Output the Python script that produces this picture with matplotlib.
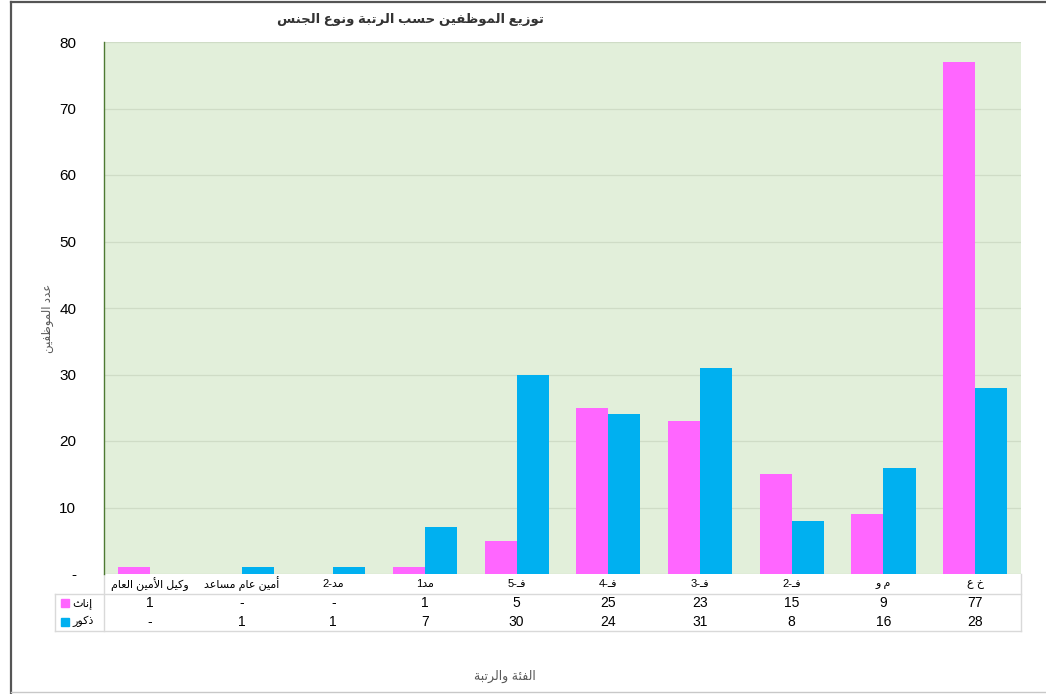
import re
import numpy as np
import matplotlib
matplotlib.use('Agg')
import matplotlib.pyplot as plt
from matplotlib.lines import Line2D
from matplotlib.patches import Rectangle
import matplotlib.transforms as mtransforms

plt.rcParams['font.family'] = ['Liberation Sans', 'DejaVu Sans']

# data
categories = ['وكيل الأمين العام', 'أمين عام مساعد', 'مد-2', 'مد1', 'فـ-5',
              'فـ-4', 'فـ-3', 'فـ-2', 'م و', 'خ ع']
female = [1, 0, 0, 1, 5, 25, 23, 15, 9, 77]
male = [0, 1, 1, 7, 30, 24, 31, 8, 16, 28]
series_names = ['إناث', 'ذكور']
yticks = [0, 10, 20, 30, 40, 50, 60, 70, 80]

title = 'توزيع الموظفين حسب الرتبة ونوع الجنس'
ylabel = 'عدد الموظفين'
xlabel = 'الفئة والرتبة'

pink = '#FF66FF'
blue = '#00B0F0'

# --- tiny arabic shaper (matplotlib has no shaping / bidi) ---
BASE = {'ء': (0xFE80, 1), 'آ': (0xFE81, 2), 'أ': (0xFE83, 2), 'ؤ': (0xFE85, 2),
        'إ': (0xFE87, 2), 'ئ': (0xFE89, 4), 'ا': (0xFE8D, 2), 'ب': (0xFE8F, 4),
        'ة': (0xFE93, 2), 'ت': (0xFE95, 4), 'ث': (0xFE99, 4), 'ج': (0xFE9D, 4),
        'ح': (0xFEA1, 4), 'خ': (0xFEA5, 4), 'د': (0xFEA9, 2), 'ذ': (0xFEAB, 2),
        'ر': (0xFEAD, 2), 'ز': (0xFEAF, 2), 'س': (0xFEB1, 4), 'ش': (0xFEB5, 4),
        'ص': (0xFEB9, 4), 'ض': (0xFEBD, 4), 'ط': (0xFEC1, 4), 'ظ': (0xFEC5, 4),
        'ع': (0xFEC9, 4), 'غ': (0xFECD, 4), 'ف': (0xFED1, 4), 'ق': (0xFED5, 4),
        'ك': (0xFED9, 4), 'ل': (0xFEDD, 4), 'م': (0xFEE1, 4), 'ن': (0xFEE5, 4),
        'ه': (0xFEE9, 4), 'و': (0xFEED, 2), 'ى': (0xFEEF, 2), 'ي': (0xFEF1, 4),
        'لآ': (0xFEF5, 2), 'لأ': (0xFEF7, 2), 'لإ': (0xFEF9, 2), 'لا': (0xFEFB, 2)}


def shape(s):
    units = []
    i = 0
    while i < len(s):
        if s[i] == 'ل' and s[i+1:i+2] in ('ا', 'أ', 'إ', 'آ'):
            units.append(s[i:i+2]); i += 2
        else:
            units.append(s[i]); i += 1

    def n(u):
        return 4 if u == 'ـ' else BASE.get(u, (0, 0))[1]
    out = ''
    for k, u in enumerate(units):
        if u == 'ـ' or n(u) == 0:
            out += u
            continue
        start, cnt = BASE[u]
        p = k > 0 and n(units[k-1]) == 4
        q = cnt == 4 and k + 1 < len(units) and n(units[k+1]) >= 2
        idx = 3 if (p and q) else 1 if (p and cnt > 1) else 2 if q else 0
        out += chr(start + idx)
    return out


def ar(s):
    runs = re.findall(r'[0-9A-Za-z.]+|[^0-9A-Za-z.]', shape(s))
    return ''.join(reversed(runs))


fig = plt.figure(figsize=(10.46, 6.94), dpi=100)
ax = fig.add_axes([104/1046, 1-574/694, (1021-104)/1046, 532/694])
ax.set_facecolor('#E2EFDA')

x = np.arange(len(categories))
w = 0.35
ax.bar(x - w/2, female, w, color=pink, zorder=3)
ax.bar(x + w/2, male, w, color=blue, zorder=3)

ax.set_xlim(-0.5, len(categories) - 0.5)
ax.set_ylim(0, 80)
ax.set_yticks(yticks)
ax.set_yticklabels(['-' if t == 0 else str(t) for t in yticks], fontsize=11)
ax.tick_params(axis='y', length=0, pad=20)
ax.set_xticks([])
ax.grid(axis='y', color='#CFDCC6', linewidth=0.9, zorder=0)
for s in ['top', 'right', 'bottom']:
    ax.spines[s].set_visible(False)
ax.spines['left'].set_color('#4E7A33')
ax.spines['left'].set_linewidth(1.0)

# data table under the plot
tr = mtransforms.blended_transform_factory(ax.transData, ax.transAxes)
rh = 19.5 / 532
y_top = 0
y1 = -20 / 532
y_bot = -57 / 532
xl = -0.5 - 49 / 91.7
lc = '#D9D9D9'
for (xa, xb, ya, yb) in [(xl, 9.5, y1, y1), (xl, 9.5, y_bot, y_bot),
                         (xl, xl, y1, y_bot), (-0.5, -0.5, y_top, y_bot),
                         (9.5, 9.5, y_top, y_bot)]:
    ax.add_line(Line2D([xa, xb], [ya, yb], transform=tr, color=lc,
                       linewidth=1, clip_on=False))

for i, c in enumerate(categories):
    ax.text(i, -0.5 * rh, ar(c), transform=tr, ha='center', va='center',
            fontsize=8)
    ax.text(i, -1.5 * rh, str(female[i]) if female[i] else '-', transform=tr,
            ha='center', va='center', fontsize=10)
    ax.text(i, -2.45 * rh, str(male[i]) if male[i] else '-', transform=tr,
            ha='center', va='center', fontsize=10)

for r, (name, col) in enumerate(zip(series_names, [pink, blue])):
    yc = -(1.5 + 0.95 * r) * rh
    ax.add_patch(Rectangle((xl + 0.06, yc - 4/532), 8/91.7, 8/532, transform=tr,
                           color=col, clip_on=False))
    ax.text(xl + 0.19, yc, ar(name), transform=tr, ha='left', va='center',
            fontsize=8)

fig.text(410/1046, 1-20/694, ar(title), ha='center', va='center',
         fontsize=9.5, fontweight='bold', color='#333333')
fig.text(48/1046, 1-318/694, ar(ylabel), ha='center', va='center',
         rotation=90, fontsize=8.5, color='#595959')
fig.text(505/1046, 1-676/694, ar(xlabel), ha='center', va='center',
         fontsize=9, color='#595959')

# outer frame
fig.add_artist(Line2D([11/1046, 11/1046], [0, 1-2/694], transform=fig.transFigure,
                      color='#555555', linewidth=1.6))
fig.add_artist(Line2D([11/1046, 1], [1-2/694, 1-2/694], transform=fig.transFigure,
                      color='#555555', linewidth=1.6))
fig.add_artist(Line2D([11/1046, 1], [1-692/694, 1-692/694], transform=fig.transFigure,
                      color='#C8C8C8', linewidth=1))

fig.savefig('out.png', dpi=100)
